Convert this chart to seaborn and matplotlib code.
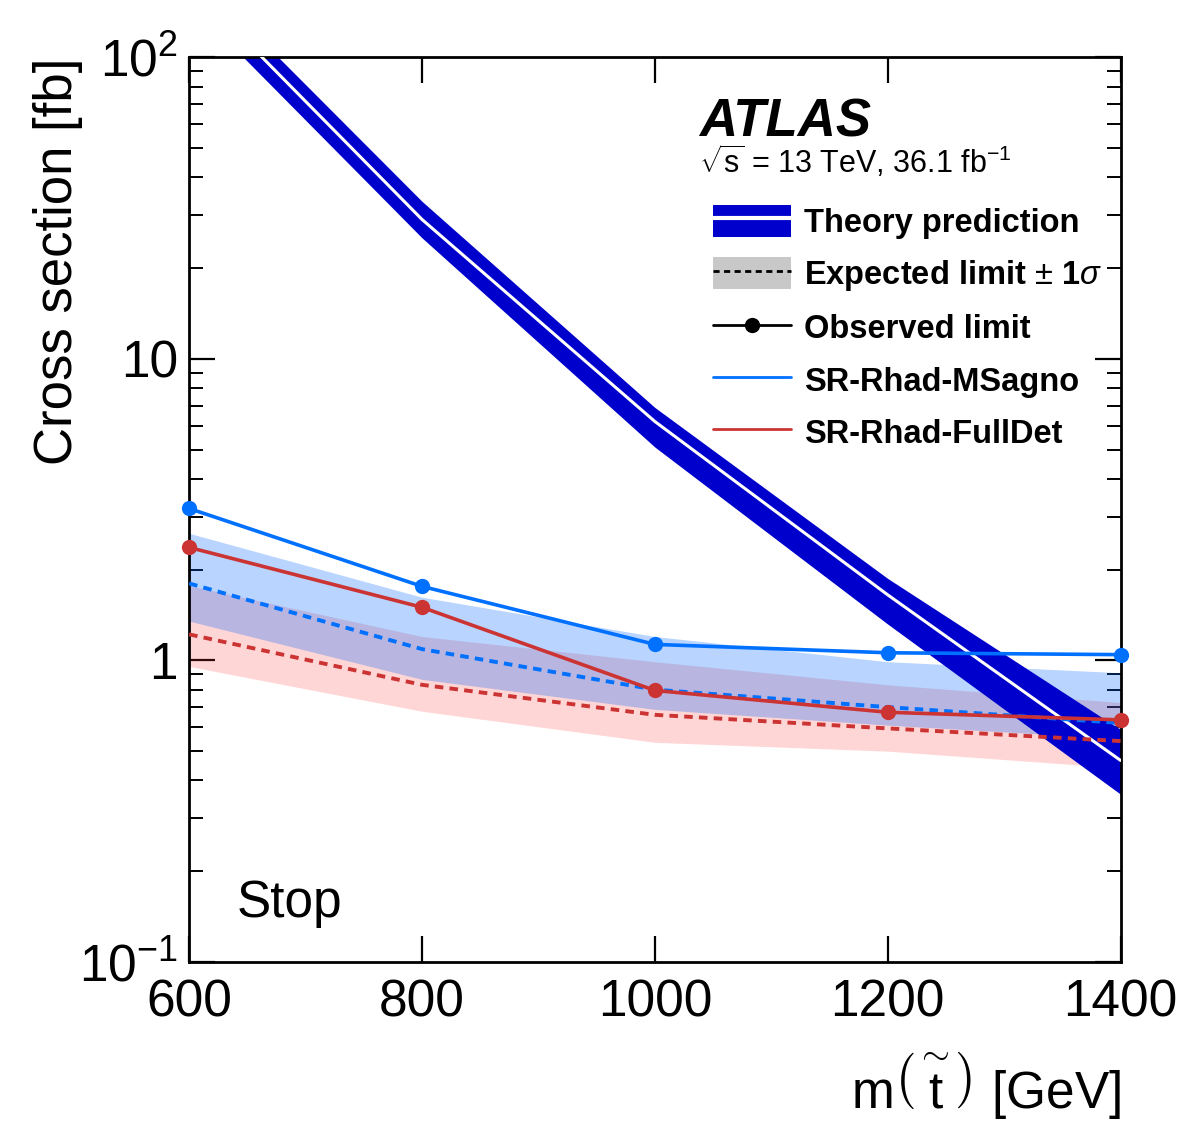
import numpy as np
import pandas as pd
import seaborn as sns
import matplotlib.pyplot as plt
from matplotlib.patches import Patch
from matplotlib.lines import Line2D
from matplotlib.ticker import FixedLocator, FixedFormatter, NullFormatter, LogLocator

# values
mass = [600, 800, 1000, 1200, 1400]

theory = [176, 29.0, 6.2, 1.65, 0.466]
theory_up = [198, 33.3, 6.9, 1.87, 0.59]
theory_dn = [152, 25.2, 5.1, 1.32, 0.36]

exp_msagno = [1.80, 1.09, 0.80, 0.70, 0.62]
exp_msagno_up = [2.64, 1.62, 1.20, 0.99, 0.91]
exp_msagno_dn = [1.35, 0.865, 0.688, 0.61, 0.55]
obs_msagno = [3.19, 1.76, 1.13, 1.06, 1.045]

exp_fulldet = [1.22, 0.83, 0.66, 0.595, 0.54]
exp_fulldet_up = [1.77, 1.20, 0.99, 0.83, 0.725]
exp_fulldet_dn = [0.955, 0.678, 0.535, 0.50, 0.44]
obs_fulldet = [2.37, 1.50, 0.795, 0.673, 0.635]

yticks = [0.1, 1, 10, 100]
ytick_labels = [r'$10^{-1}$', '1', '10', r'$10^{2}$']

sns.set_theme(style='ticks')
plt.rcParams['font.family'] = ['Liberation Sans', 'DejaVu Sans']
plt.rcParams['mathtext.fontset'] = 'custom'
plt.rcParams['mathtext.rm'] = 'Liberation Sans'
plt.rcParams['mathtext.it'] = 'Liberation Sans:italic'
plt.rcParams['mathtext.bf'] = 'Liberation Sans:bold'
plt.rcParams['mathtext.sf'] = 'Liberation Sans'
for k in ['text.color', 'axes.labelcolor', 'xtick.color', 'ytick.color', 'axes.edgecolor']:
    plt.rcParams[k] = 'black'

blue = '#0070ff'
red = '#cc3333'
theo_col = '#0000cc'

fig = plt.figure(figsize=(11.82, 11.46), dpi=100)
ax = fig.add_axes([0.160, 0.1606, 0.788, 0.7894])

# expected bands
ax.fill_between(mass, exp_fulldet_dn, exp_fulldet_up, color='#ff3333', alpha=0.2, lw=0, zorder=1)
ax.fill_between(mass, exp_msagno_dn, exp_msagno_up, color='#0066ff', alpha=0.28, lw=0, zorder=1)

# theory band
ax.fill_between(mass, theory_dn, theory_up, color=theo_col, lw=0, zorder=2)
sns.lineplot(x=mass, y=theory, ax=ax, color='white', lw=2.2, zorder=3)

# expected lines
sns.lineplot(x=mass, y=exp_msagno, ax=ax, color=blue, lw=2.8, zorder=4)
ax.lines[-1].set_dashes((2.2, 1.6))
sns.lineplot(x=mass, y=exp_fulldet, ax=ax, color=red, lw=2.8, zorder=4)
ax.lines[-1].set_dashes((2.2, 1.6))

# observed
sns.lineplot(x=mass, y=obs_msagno, ax=ax, color=blue, lw=2.6, marker='o',
             markersize=11, markeredgewidth=0, zorder=5, clip_on=False)
sns.lineplot(x=mass, y=obs_fulldet, ax=ax, color=red, lw=2.6, marker='o',
             markersize=11, markeredgewidth=0, zorder=5, clip_on=False)

ax.set_yscale('log')
ax.set_xlim(600, 1400)
ax.set_ylim(0.1, 100)
ax.set_xticks([600, 800, 1000, 1200, 1400])
ax.yaxis.set_major_locator(FixedLocator(yticks))
ax.yaxis.set_major_formatter(FixedFormatter(ytick_labels))
ax.yaxis.set_minor_locator(LogLocator(base=10, subs=np.arange(2, 10)))
ax.yaxis.set_minor_formatter(NullFormatter())

for s in ax.spines.values():
    s.set_linewidth(2)
    s.set_color('black')
ax.tick_params(which='major', direction='in', top=True, right=True,
               length=19, width=1.6, labelsize=37, color='black')
ax.tick_params(axis='x', which='major', pad=12)
ax.tick_params(axis='y', which='major', pad=8)
ax.tick_params(which='minor', direction='in', right=True, length=10, width=1.4, color='black')

ax.set_ylabel('Cross section [fb]', fontsize=38, loc='top')
ax.yaxis.set_label_coords(-0.114, 1.0)
ax.set_xlabel(r'$\mathrm{m}\left(\overset{\sim}{\mathrm{t}}\right)$ [GeV]', fontsize=37, loc='right')
ax.xaxis.set_label_coords(1.0, -0.097)

ax.text(0.547, 0.912, 'ATLAS', transform=ax.transAxes, fontsize=38,
        fontweight='bold', fontstyle='italic', va='baseline')
ax.text(0.547, 0.872, r'$\sqrt{\mathrm{s}}$ = 13 TeV, 36.1 fb$^{-1}$', transform=ax.transAxes,
        fontsize=22, va='baseline')
ax.text(0.0515, 0.05, 'Stop', transform=ax.transAxes, fontsize=37, va='baseline')

handles = [
    (Patch(fc=theo_col, ec='none'), Line2D([], [], color='white', lw=3)),
    (Patch(fc='#c8c8c8', ec='none'), Line2D([], [], color='black', lw=2, dashes=(2.2, 1.6))),
    Line2D([], [], color='black', lw=2, marker='o', markersize=10),
    Line2D([], [], color=blue, lw=2),
    Line2D([], [], color=red, lw=2),
]
labels = ['Theory prediction', r'Expected limit $\pm$ 1$\sigma$', 'Observed limit',
          'SR-Rhad-MSagno', 'SR-Rhad-FullDet']
leg = ax.legend(handles, labels, loc='upper left', bbox_to_anchor=(0.562, 0.837),
                frameon=False, borderaxespad=0, borderpad=0, handlelength=2.4,
                handleheight=1.15, handletextpad=0.4, labelspacing=0.55,
                prop={'size': 23.5, 'weight': 'bold'})

fig.savefig('out.png', dpi=100)
